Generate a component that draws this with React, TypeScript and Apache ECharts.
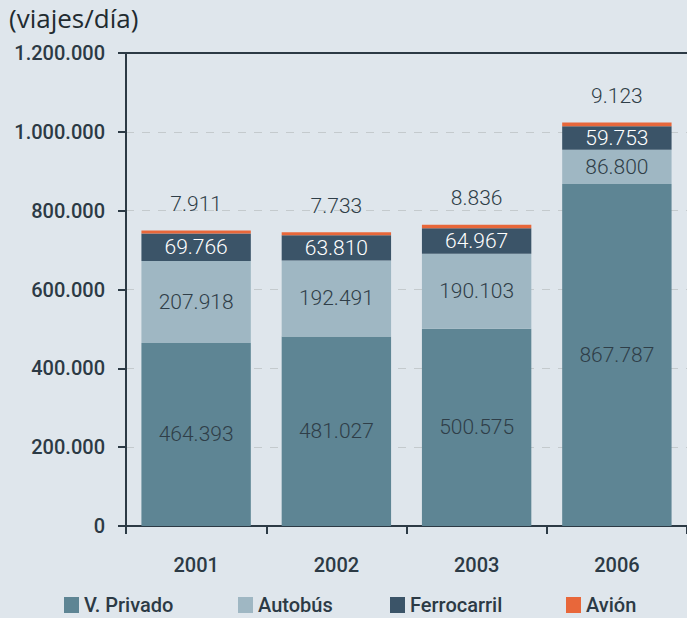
import React, { useEffect, useRef } from "react";
import * as echarts from "echarts";

const categories = ["2001", "2002", "2003", "2006"];
const privado = [464393, 481027, 500575, 867787];
const autobus = [207918, 192491, 190103, 86800];
const ferrocarril = [69766, 63810, 64967, 59753];
const avion = [7911, 7733, 8836, 9123];
const seriesNames = ["V. Privado", "Autobús", "Ferrocarril", "Avión"];
const yTicks = { min: 0, max: 1200000, interval: 200000 };
const unitLabel = "(viajes/día)";

const fmt = (v: number) => String(Math.round(v)).replace(/\B(?=(\d{3})+(?!\d))/g, ".");

const FONT = "Roboto, 'Open Sans', sans-serif";
const TFONT = "'Open Sans', 'DejaVu Sans', sans-serif";
const DARK = "#2c3a45";
const legendLefts = [64, 238, 390, 566];

export default function App() {
  const ref = useRef<HTMLDivElement>(null);
  useEffect(() => {
    const chart = echarts.init(ref.current!, undefined, { renderer: "svg" });
    const valueLabel = (color: string) => ({
      show: true,
      position: "inside" as const,
      color,
      fontFamily: FONT,
      fontWeight: 300,
      fontSize: 21,
      formatter: (p: any) => fmt(p.value),
    });
    chart.setOption({
      animation: false,
      backgroundColor: "#dfe6ec",
      graphic: [
        {
          type: "text",
          left: 9,
          top: 5,
          style: { text: unitLabel, fontFamily: TFONT, fontSize: 26, fill: "#222b30" },
        },
      ],
      legend: seriesNames.map((n, i) => ({
        left: legendLefts[i],
        top: 595,
        padding: 0,
        itemWidth: 15,
        itemHeight: 16,
        icon: "rect",
        textStyle: { fontFamily: FONT, fontSize: 20, fontWeight: 500, color: DARK },
        data: [n],
      })),
      grid: { left: 126, top: 53, width: 568, height: 473, containLabel: false },
      xAxis: [
        {
          type: "category",
          data: categories,
          axisLine: { lineStyle: { color: DARK, width: 2 } },
          axisTick: { show: true, length: 8, lineStyle: { color: DARK, width: 2 } },
          axisLabel: { fontFamily: FONT, fontSize: 20, fontWeight: 500, color: DARK, margin: 29 },
        },
        {
          type: "category",
          data: categories,
          position: "top",
          axisLine: { show: true, onZero: false, lineStyle: { color: DARK, width: 2 } },
          axisTick: { show: false },
          axisLabel: { show: false },
        },
      ],
      yAxis: {
        type: "value",
        min: yTicks.min,
        max: yTicks.max,
        interval: yTicks.interval,
        axisLine: { show: true, lineStyle: { color: DARK, width: 2 } },
        axisTick: { show: true, length: 8, lineStyle: { color: DARK, width: 2 } },
        axisLabel: {
          fontFamily: FONT,
          fontSize: 20,
          fontWeight: 500,
          color: DARK,
          margin: 21,
          formatter: (v: number) => fmt(v),
        },
        splitLine: { show: true, lineStyle: { color: "#c4cacd", type: [8, 8], width: 1 } },
      },
      series: [
        {
          name: seriesNames[0],
          type: "bar",
          stack: "t",
          barCategoryGap: "22%",
          data: privado,
          itemStyle: { color: "#5e8594" },
          label: valueLabel("#2f3e48"),
        },
        {
          name: seriesNames[1],
          type: "bar",
          stack: "t",
          data: autobus,
          itemStyle: { color: "#9fb7c3" },
          label: valueLabel("#2f3e48"),
        },
        {
          name: seriesNames[2],
          type: "bar",
          stack: "t",
          data: ferrocarril,
          itemStyle: { color: "#3b5468" },
          label: valueLabel("#ffffff"),
        },
        {
          name: seriesNames[3],
          type: "bar",
          stack: "t",
          data: avion,
          itemStyle: { color: "#e8673a" },
          label: { ...valueLabel("#2f3e48"), position: "top", distance: 16 },
        },
      ],
    });
    return () => chart.dispose();
  }, []);
  return (
    <div style={{ position: "fixed", left: 0, top: 0, width: 687, height: 618, overflow: "hidden" }}>
      <div ref={ref} style={{ width: 687, height: 618 }} />
    </div>
  );
}
